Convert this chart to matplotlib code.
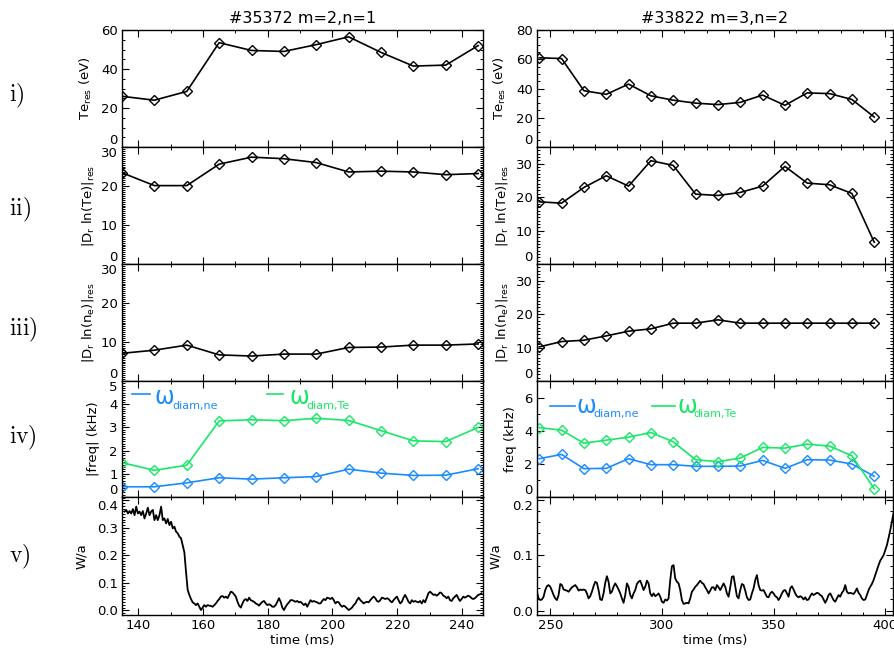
import numpy as np
import matplotlib.pyplot as plt
from matplotlib.ticker import AutoMinorLocator, FormatStrFormatter

# ---- shot #35372, m=2,n=1 ----
t_35372 = [135, 145, 155, 165, 175, 185, 195, 205, 215, 225, 235, 245]
te_35372 = [26, 24, 28.5, 53.5, 49.5, 49, 52.5, 56.5, 48.5, 41.5, 42, 52]
dte_35372 = [23.4, 20.1, 20.1, 25.6, 27.4, 27.0, 26.0, 23.6, 23.8, 23.6, 22.9, 23.2]
dne_35372 = [7.1, 7.9, 9.2, 6.7, 6.4, 6.9, 6.9, 8.6, 8.7, 9.2, 9.2, 9.5]
fne_35372 = [0.44, 0.44, 0.61, 0.83, 0.77, 0.83, 0.88, 1.20, 1.03, 0.93, 0.94, 1.22]
fte_35372 = [1.48, 1.15, 1.37, 3.28, 3.33, 3.29, 3.39, 3.30, 2.86, 2.42, 2.39, 3.0]

wa_35372 = [
    0.359, 0.365, 0.352, 0.361, 0.352, 0.368, 0.346, 0.377, 0.352, 0.359,
    0.346, 0.361, 0.334, 0.352, 0.373, 0.346, 0.359, 0.365, 0.328, 0.346,
    0.328, 0.346, 0.377, 0.328, 0.334, 0.316, 0.332, 0.310, 0.322, 0.298,
    0.304, 0.286, 0.280, 0.268, 0.262, 0.237, 0.211, 0.140, 0.074, 0.056,
    0.041, 0.029, 0.025, 0.019, 0.025, 0.013, 0.001, 0.010, 0.019, 0.013,
    0.019, 0.017, 0.016, 0.013, 0.019, 0.025, 0.034, 0.041, 0.050, 0.052,
    0.046, 0.050, 0.044, 0.056, 0.068, 0.065, 0.058, 0.050, 0.031, 0.017,
    0.010, 0.025, 0.037, 0.041, 0.034, 0.046, 0.037, 0.034, 0.031, 0.025,
    0.022, 0.017, 0.025, 0.031, 0.034, 0.025, 0.019, 0.022, 0.019, 0.013,
    0.013, 0.019, 0.031, 0.044, 0.031, 0.010, 0.001, 0.013, 0.022, 0.029,
    0.037, 0.037, 0.034, 0.031, 0.034, 0.029, 0.031, 0.025, 0.019,
    0.025, 0.013, 0.025, 0.037, 0.031, 0.034, 0.031, 0.029, 0.025, 0.025,
    0.034, 0.041, 0.037, 0.046, 0.044, 0.041, 0.046, 0.037, 0.025, 0.031,
    0.029, 0.019, 0.013, 0.017, 0.013, 0.007, 0.001, 0.005, 0.010, 0.019,
    0.025, 0.037, 0.046, 0.037, 0.031, 0.025, 0.029, 0.031, 0.029, 0.037,
    0.044, 0.050, 0.044, 0.034, 0.031, 0.037, 0.046, 0.044, 0.041, 0.044,
    0.041, 0.034, 0.029, 0.037, 0.044, 0.050, 0.037, 0.025, 0.031, 0.046,
    0.056, 0.044, 0.031, 0.025, 0.037, 0.031, 0.034, 0.031, 0.029, 0.034,
    0.025, 0.037, 0.029, 0.046, 0.062, 0.068, 0.062, 0.056, 0.058, 0.053,
    0.058, 0.065, 0.062, 0.053, 0.050, 0.044, 0.050, 0.037, 0.034, 0.044,
    0.050, 0.056, 0.044, 0.034, 0.041, 0.050, 0.046, 0.050, 0.053, 0.050,
    0.044, 0.041, 0.044, 0.050, 0.056, 0.058, 0.062,
]
twa_35372 = np.linspace(135.8, 246.05, len(wa_35372))

# ---- shot #33822, m=3,n=2 ----
t_33822 = [245, 255, 265, 275, 285, 295, 305, 315, 325, 335, 345, 355, 365, 375, 385, 395]
te_33822 = [61, 60.5, 38.5, 36, 43, 35, 32, 30, 29, 30.5, 35.5, 28.5, 37, 36.5, 32.5, 20.5]
dte_33822 = [18.6, 18.2, 22.9, 26.4, 23.3, 30.9, 29.5, 20.9, 20.5, 21.4, 23.3, 29.2,
             24.2, 23.7, 21.1, 6.5]
dne_33822 = [10.2, 11.8, 12.2, 13.5, 14.9, 15.6, 17.3, 17.3, 18.3, 17.3, 17.3, 17.3,
             17.3, 17.3, 17.3, 17.3]
fne_33822 = [2.31, 2.57, 1.71, 1.73, 2.31, 1.95, 1.95, 1.85, 1.85, 1.87, 2.21, 1.73,
             2.25, 2.23, 1.99, 1.25]
fte_33822 = [4.19, 4.03, 3.25, 3.43, 3.61, 3.89, 3.33, 2.25, 2.13, 2.35, 2.99, 2.95,
             3.19, 3.07, 2.49, 0.50]

wa_33822 = [
    0.034, 0.022, 0.019, 0.020, 0.025, 0.037, 0.044, 0.046, 0.043, 0.036,
    0.028, 0.022, 0.019, 0.028, 0.048, 0.046, 0.038, 0.037, 0.036, 0.034,
    0.038, 0.042, 0.044, 0.046, 0.042, 0.036, 0.038, 0.037, 0.038, 0.037,
    0.031, 0.022, 0.026, 0.034, 0.044, 0.052, 0.050, 0.037, 0.020, 0.019,
    0.031, 0.050, 0.062, 0.052, 0.031, 0.034, 0.043, 0.049, 0.044, 0.038,
    0.031, 0.022, 0.014, 0.028, 0.049, 0.043, 0.028, 0.022, 0.031, 0.037,
    0.048, 0.052, 0.054, 0.046, 0.037, 0.043, 0.054, 0.049, 0.031, 0.026,
    0.031, 0.026, 0.028, 0.031, 0.025, 0.016, 0.014, 0.020, 0.018, 0.022,
    0.055, 0.080, 0.082, 0.058, 0.052, 0.049, 0.037, 0.019, 0.012, 0.013,
    0.014, 0.013, 0.022, 0.034, 0.038, 0.043, 0.046, 0.050, 0.054, 0.050,
    0.048, 0.042, 0.037, 0.031, 0.036, 0.042, 0.042, 0.037, 0.046, 0.042,
    0.037, 0.043, 0.049, 0.043, 0.031, 0.025, 0.042, 0.061, 0.062, 0.044,
    0.026, 0.022, 0.037, 0.048, 0.046, 0.036, 0.024, 0.019, 0.020, 0.031,
    0.040, 0.055, 0.064, 0.046, 0.037, 0.036, 0.037, 0.031, 0.025, 0.024,
    0.031, 0.034, 0.031, 0.026, 0.024, 0.019, 0.024, 0.031, 0.036, 0.037,
    0.031, 0.025, 0.040, 0.044, 0.038, 0.031, 0.026, 0.024, 0.026, 0.024,
    0.020, 0.024, 0.019, 0.020, 0.026, 0.031, 0.028, 0.030, 0.032, 0.031,
    0.028, 0.026, 0.020, 0.014, 0.020, 0.028, 0.031, 0.025, 0.019, 0.016,
    0.022, 0.028, 0.025, 0.032, 0.036, 0.046, 0.034, 0.031, 0.032, 0.031,
    0.030, 0.034, 0.040, 0.032, 0.028, 0.022, 0.019, 0.020, 0.028, 0.037,
    0.043, 0.048, 0.055, 0.064, 0.073, 0.082, 0.090,
    0.095, 0.100, 0.109, 0.118, 0.131, 0.145, 0.160, 0.176, 0.191,
]
twa_33822 = np.linspace(243.96, 404.4, len(wa_33822))

BLUE = '#1a8cff'
GREEN = '#18e868'

plt.rcParams['font.family'] = 'DejaVu Sans'
plt.rcParams['font.size'] = 9.5
plt.rcParams['mathtext.default'] = 'regular'
plt.rcParams['axes.linewidth'] = 1.0
for ax_name in ('xtick', 'ytick'):
    plt.rcParams[f'{ax_name}.direction'] = 'in'
    plt.rcParams[f'{ax_name}.major.size'] = 5
    plt.rcParams[f'{ax_name}.minor.size'] = 2.5
    plt.rcParams[f'{ax_name}.major.width'] = 0.8
    plt.rcParams[f'{ax_name}.minor.width'] = 0.7
    plt.rcParams[f'{ax_name}.major.pad'] = 3
plt.rcParams['xtick.top'] = True
plt.rcParams['ytick.right'] = True

W, H = 895, 656
fig = plt.figure(figsize=(W / 100, H / 100), dpi=100)

rows = [30, 147, 264, 381, 497, 615]


def add_axes_px(x0, x1, row):
    y0, y1 = rows[row], rows[row + 1]
    return fig.add_axes([x0 / W, 1 - y1 / H, (x1 - x0) / W, (y1 - y0) / H])


def marks(ax, t, y, color='black'):
    ax.plot(t, y, color=color, lw=1.2, marker='D', ms=5.2,
            mfc='none', mec=color, mew=1.0)


def legend_entry(ax, x0, x1, yline, xw, yw, xs, ys, sub, color):
    ax.plot([x0, x1], [yline, yline], color=color, lw=1.2,
            transform=ax.transAxes, clip_on=False)
    ax.text(xw, yw, r'$\omega$', color=color, fontsize=17,
            math_fontfamily='stix', transform=ax.transAxes, va='baseline')
    ax.text(xs, ys, sub, color=color, fontsize=8, transform=ax.transAxes,
            va='baseline')


# left column: #35372
L = [add_axes_px(122, 483, r) for r in range(5)]
# right column: #33822
R = [add_axes_px(537, 893, r) for r in range(5)]

L[0].set_title('#35372 m=2,n=1', fontsize=11.5, pad=5)
R[0].set_title('#33822 m=3,n=2', fontsize=11.5, pad=5)

marks(L[0], t_35372, te_35372)
marks(L[1], t_35372, dte_35372)
marks(L[2], t_35372, dne_35372)
marks(L[3], t_35372, fne_35372, BLUE)
marks(L[3], t_35372, fte_35372, GREEN)
L[4].plot(twa_35372, wa_35372, color='black', lw=1.3)

marks(R[0], t_33822, te_33822)
marks(R[1], t_33822, dte_33822)
marks(R[2], t_33822, dne_33822)
marks(R[3], t_33822, fne_33822, BLUE)
marks(R[3], t_33822, fte_33822, GREEN)
R[4].plot(twa_33822, wa_33822, color='black', lw=1.3)

legend_entry(L[3], 0.028, 0.078, 0.889, 0.090, 0.805, 0.140, 0.755, 'diam,ne', BLUE)
legend_entry(L[3], 0.402, 0.446, 0.889, 0.463, 0.805, 0.511, 0.755, 'diam,Te', GREEN)
legend_entry(R[3], 0.037, 0.107, 0.786, 0.110, 0.728, 0.158, 0.690, 'diam,ne', BLUE)
legend_entry(R[3], 0.323, 0.388, 0.786, 0.392, 0.728, 0.440, 0.690, 'diam,Te', GREEN)

ylabels = ['Te$_{res}$ (eV)', '|D$_r$ ln(Te)|$_{res}$', '|D$_r$ ln(n$_e$)|$_{res}$']

left_cfg = [
    ((0, 60), [0, 20, 40, 60], 4, '%d', ylabels[0], -0.078),
    ((0, 30), [0, 10, 20, 30], 20, '%d', ylabels[1], -0.072),
    ((0, 30), [0, 10, 20, 30], 20, '%d', ylabels[2], -0.072),
    ((0, 5), [0, 1, 2, 3, 4, 5], 10, '%d', '|freq| (kHz)', -0.061),
    ((-0.017, 0.412), [0.0, 0.1, 0.2, 0.3, 0.4], 10, '%.1f', 'W/a', -0.094),
]
right_cfg = [
    ((0, 80), [0, 20, 40, 60, 80], 4, '%d', ylabels[0], -0.081),
    ((0, 35), [0, 10, 20, 30], 10, '%d', ylabels[1], -0.076),
    ((0, 35), [0, 10, 20, 30], 10, '%d', ylabels[2], -0.076),
    ((0, 7), [0, 2, 4, 6], 2, '%d', 'freq (kHz)', -0.056),
    ((-0.008, 0.205), [0.0, 0.1, 0.2], 5, '%.1f', 'W/a', -0.098),
]

for axes, cfg, xlim, xticks, xminor in (
        (L, left_cfg, (135, 246.5), [140, 160, 180, 200, 220, 240], 2),
        (R, right_cfg, (244, 403.4), [250, 300, 350, 400], 5)):
    for i, (ax, (ylim, yticks, nminor, fmt, label, lx)) in enumerate(zip(axes, cfg)):
        ax.set_xlim(*xlim)
        ax.set_xticks(xticks)
        ax.xaxis.set_minor_locator(AutoMinorLocator(xminor))
        ax.set_ylim(*ylim)
        ax.set_yticks(yticks)
        ax.yaxis.set_major_formatter(FormatStrFormatter(fmt))
        ax.yaxis.set_minor_locator(AutoMinorLocator(nminor))
        ax.tick_params(which='both', top=True, right=True)
        ax.set_ylabel(label)
        ax.yaxis.set_label_coords(lx, 0.5)
        if i < 4:
            ax.tick_params(labelbottom=False)
        else:
            ax.set_xlabel('time (ms)', labelpad=1)
        # labels sitting on a shared border: lower one above, upper one below
        ticks = ax.yaxis.get_major_ticks()
        near = 0.05 * (ylim[1] - ylim[0])
        if i < 4 and abs(yticks[0] - ylim[0]) < near:
            ticks[0].label1.set_va('bottom')
        if i > 0 and abs(yticks[-1] - ylim[1]) < near:
            ticks[-1].label1.set_va('top')

# row tags on the far left
for label, ypx in zip(['i)', 'ii)', 'iii)', 'iv)', 'v)'], [96, 210, 330, 438, 557]):
    fig.text(9 / W, 1 - ypx / H, r'$\mathrm{' + label + '}$', fontsize=17,
             math_fontfamily='cm', va='center', ha='left')

fig.savefig('out.png', dpi=100)
